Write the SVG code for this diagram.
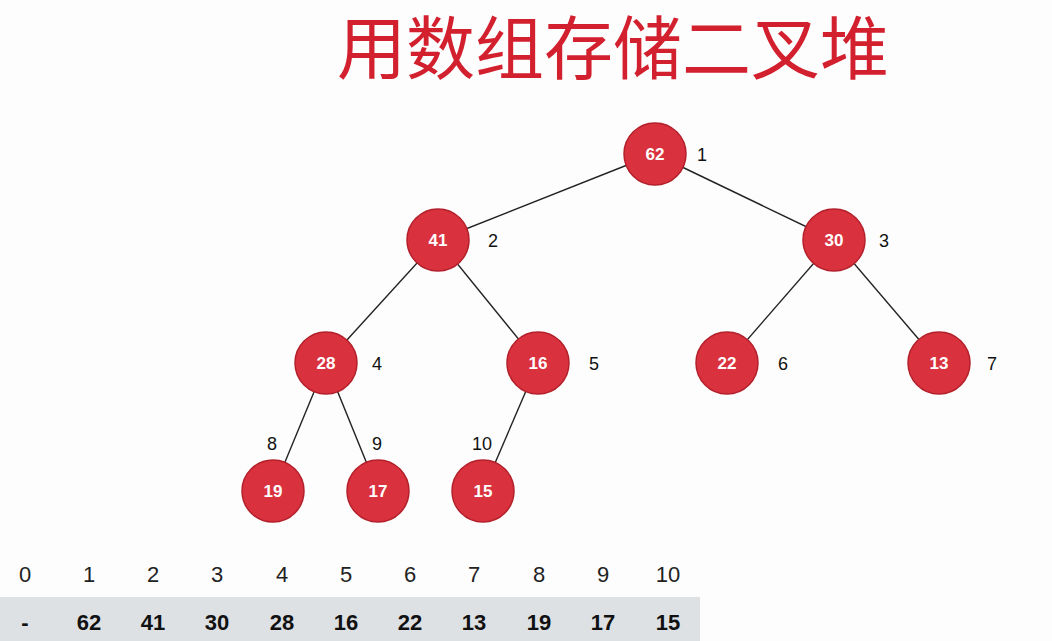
<svg xmlns="http://www.w3.org/2000/svg" width="1052" height="641" viewBox="0 0 1052 641">
<style>
.node circle{fill:#d9323e;stroke:#b3202b;stroke-width:1.5}
.node text{fill:#fff;font-family:"Liberation Sans",Arial,sans-serif;font-weight:bold;font-size:17px;text-anchor:middle;dominant-baseline:central}
.idx{fill:#111;font-family:"Liberation Sans",Arial,sans-serif;font-size:18px;dominant-baseline:central}
.ai{fill:#222;font-family:"Liberation Sans",Arial,sans-serif;font-size:22px;text-anchor:middle;dominant-baseline:central}
.av{fill:#111;font-family:"Liberation Sans",Arial,sans-serif;font-size:22px;font-weight:bold;text-anchor:middle;dominant-baseline:central}
#edges line{stroke:#222;stroke-width:1.4}
</style>
<rect width="1052" height="641" fill="#fdfdfd"/>
<text x="613" y="74" fill="#d3202f" font-family="Noto Sans CJK SC, sans-serif" font-size="69" text-anchor="middle">用数组存储二叉堆</text>
<g id="edges">
<line x1="655" y1="154" x2="438" y2="240"/>
<line x1="655" y1="154" x2="834" y2="240"/>
<line x1="438" y1="240" x2="326" y2="363"/>
<line x1="438" y1="240" x2="538" y2="363"/>
<line x1="834" y1="240" x2="727" y2="363"/>
<line x1="834" y1="240" x2="939" y2="363"/>
<line x1="326" y1="363" x2="273" y2="491"/>
<line x1="326" y1="363" x2="378" y2="491"/>
<line x1="538" y1="363" x2="483" y2="491"/>
</g>
<g id="n1" class="node"><circle cx="655" cy="154" r="31"/><text x="655" y="154">62</text></g>
<g id="n2" class="node"><circle cx="438" cy="240" r="31"/><text x="438" y="240">41</text></g>
<g id="n3" class="node"><circle cx="834" cy="240" r="31"/><text x="834" y="240">30</text></g>
<g id="n4" class="node"><circle cx="326" cy="363" r="31"/><text x="326" y="363">28</text></g>
<g id="n5" class="node"><circle cx="538" cy="363" r="31"/><text x="538" y="363">16</text></g>
<g id="n6" class="node"><circle cx="727" cy="363" r="31"/><text x="727" y="363">22</text></g>
<g id="n7" class="node"><circle cx="939" cy="363" r="31"/><text x="939" y="363">13</text></g>
<g id="n8" class="node"><circle cx="273" cy="491" r="31"/><text x="273" y="491">19</text></g>
<g id="n9" class="node"><circle cx="378" cy="491" r="31"/><text x="378" y="491">17</text></g>
<g id="n10" class="node"><circle cx="483" cy="491" r="31"/><text x="483" y="491">15</text></g>
<g id="labels">
<text class="idx" x="697" y="155">1</text>
<text class="idx" x="488" y="241">2</text>
<text class="idx" x="879" y="241">3</text>
<text class="idx" x="372" y="364">4</text>
<text class="idx" x="589" y="364">5</text>
<text class="idx" x="778" y="364">6</text>
<text class="idx" x="987" y="364">7</text>
<text class="idx" x="267" y="444">8</text>
<text class="idx" x="372" y="444">9</text>
<text class="idx" x="472" y="444">10</text>
</g>
<g id="array">
<rect x="0" y="597" width="700" height="44" fill="#dde1e4"/>
<text class="ai" x="25" y="574">0</text>
<text class="ai" x="89" y="574">1</text>
<text class="ai" x="153" y="574">2</text>
<text class="ai" x="217" y="574">3</text>
<text class="ai" x="282" y="574">4</text>
<text class="ai" x="346" y="574">5</text>
<text class="ai" x="410" y="574">6</text>
<text class="ai" x="474" y="574">7</text>
<text class="ai" x="539" y="574">8</text>
<text class="ai" x="603" y="574">9</text>
<text class="ai" x="668" y="574">10</text>
<text class="av" x="25" y="622">-</text>
<text class="av" x="89" y="622">62</text>
<text class="av" x="153" y="622">41</text>
<text class="av" x="217" y="622">30</text>
<text class="av" x="282" y="622">28</text>
<text class="av" x="346" y="622">16</text>
<text class="av" x="410" y="622">22</text>
<text class="av" x="474" y="622">13</text>
<text class="av" x="539" y="622">19</text>
<text class="av" x="603" y="622">17</text>
<text class="av" x="668" y="622">15</text>
</g>
</svg>
